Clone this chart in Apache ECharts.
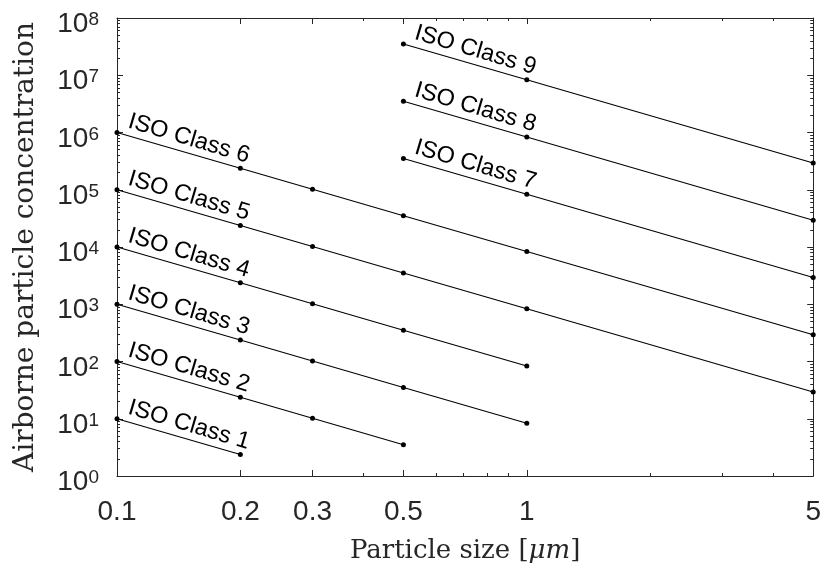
<!DOCTYPE html>
<html>
<head>
<meta charset="utf-8">
<script src="https://cdn.jsdelivr.net/npm/echarts@6/dist/echarts.min.js"></script>
<style>html,body{margin:0;padding:0;background:#fff}#c{width:824px;height:574px}</style>
</head>
<body>
<div id="c"></div>
<script>
// Particle sizes (µm)
var sizes = [0.1, 0.2, 0.3, 0.5, 1, 5];
// Concentrations per ISO class at each size (null = not defined)
var class1 = [10, 2.37, null, null, null, null];
var class2 = [100, 23.7, 10.2, 3.52, null, null];
var class3 = [1000, 237, 102, 35.2, 8.32, null];
var class4 = [10000, 2370, 1020, 352, 83.2, null];
var class5 = [100000, 23700, 10200, 3520, 832, 29.3];
var class6 = [1000000, 237000, 102000, 35200, 8320, 293];
var class7 = [null, null, null, 352000, 83200, 2930];
var class8 = [null, null, null, 3520000, 832000, 29300];
var class9 = [null, null, null, 35200000, 8320000, 293000];
var classNames = ['ISO Class 1','ISO Class 2','ISO Class 3','ISO Class 4','ISO Class 5','ISO Class 6','ISO Class 7','ISO Class 8','ISO Class 9'];
var classData = [class1, class2, class3, class4, class5, class6, class7, class8, class9];
// Tick labels / positions
var xTickLabels = [0.1, 0.2, 0.3, 0.5, 1, 5];
var xMinorTicks = [0.4, 0.6, 0.7, 0.8, 0.9, 2, 3, 4];
var yTickLabels = [1, 10, 100, 1e3, 1e4, 1e5, 1e6, 1e7, 1e8];
var yMinorTicks = [];
for (var e = 0; e < 8; e++) { for (var m = 2; m <= 9; m++) { yMinorTicks.push(m * Math.pow(10, e)); } }

var AX = '#262626';
var SANS = '"Liberation Sans", Arial, Helvetica, sans-serif';
var SERIF = '"DejaVu Serif", serif';

function xAxisDef(pos, ticks, len, labels, line) {
  return {
    type: 'log', logBase: 10, min: 0.1, max: 5, position: pos,
    axisLine: {show: line, lineStyle: {color: AX, width: 1}},
    axisTick: {show: true, inside: true, length: len, customValues: ticks, lineStyle: {color: AX, width: 1}},
    axisLabel: labels ? {
      show: true, customValues: ticks, margin: 22, color: AX, fontSize: 28, fontFamily: SANS,
      formatter: function (v) { return String(+parseFloat(v).toPrecision(3)); }
    } : {show: false},
    splitLine: {show: false}, minorTick: {show: false}, minorSplitLine: {show: false}
  };
}
function yAxisDef(pos, ticks, len, labels, line) {
  return {
    type: 'log', logBase: 10, min: 1, max: 1e8, position: pos,
    axisLine: {show: line, lineStyle: {color: AX, width: 1}},
    axisTick: {show: true, inside: true, length: len, customValues: ticks, lineStyle: {color: AX, width: 1}},
    axisLabel: labels ? {
      show: true, customValues: ticks, margin: 18, color: AX, padding: [13, 0, 0, 0],
      formatter: function (v) { return '{b|10}{s|' + Math.round(Math.log10(v)) + '}'; },
      rich: {
        b: {fontSize: 28, lineHeight: 28, fontFamily: SANS, color: AX, verticalAlign: 'bottom'},
        s: {fontSize: 19, lineHeight: 19, fontFamily: SANS, color: AX, padding: [0, 0, 15, 0], verticalAlign: 'top'}
      }
    } : {show: false},
    splitLine: {show: false}, minorTick: {show: false}, minorSplitLine: {show: false}
  };
}

var xAxes = [
  xAxisDef('bottom', xTickLabels, 6, true, true),
  xAxisDef('bottom', xMinorTicks, 3, false, false),
  xAxisDef('top', xTickLabels, 6, false, true),
  xAxisDef('top', xMinorTicks, 3, false, false)
];
xAxes[0].name = 'Particle size [{i|μm}]';
xAxes[0].nameLocation = 'middle';
xAxes[0].nameGap = 62;
xAxes[0].nameTextStyle = {fontFamily: SERIF, fontSize: 26, color: AX,
  rich: {i: {fontFamily: SERIF, fontSize: 26, fontStyle: 'italic', color: AX}}};

var yAxes = [
  yAxisDef('left', yTickLabels, 6, true, true),
  yAxisDef('left', yMinorTicks, 3, false, false),
  yAxisDef('right', yTickLabels, 6, false, true),
  yAxisDef('right', yMinorTicks, 3, false, false)
];
yAxes[0].name = 'Airborne particle concentration';
yAxes[0].nameLocation = 'middle';
yAxes[0].nameGap = 77;
yAxes[0].nameTextStyle = {fontFamily: SERIF, fontSize: 28, color: AX};

var series = classData.map(function (vals, ci) {
  var data = [];
  var first = true;
  vals.forEach(function (v, i) {
    if (v === null) return;
    var item = {value: [sizes[i], v]};
    if (first) {
      item.label = {
        show: true, formatter: classNames[ci], position: 'right', distance: 6,
        align: 'left', verticalAlign: 'bottom', rotate: -16.5,
        color: '#000', fontSize: 23.5, fontFamily: SANS
      };
      first = false;
    }
    data.push(item);
  });
  return {
    type: 'line', name: classNames[ci], xAxisIndex: 0, yAxisIndex: 0,
    data: data, symbol: 'circle', symbolSize: 5, showSymbol: true,
    itemStyle: {color: '#000'}, lineStyle: {color: '#000', width: 1.1},
    label: {show: false}, emphasis: {disabled: true}, animation: false, silent: true
  };
});

var chart = echarts.init(document.getElementById('c'), null, {renderer: 'canvas'});
chart.setOption({
  backgroundColor: '#fff',
  animation: false,
  grid: {left: 117, right: 9, top: 18, bottom: 98, containLabel: false},
  xAxis: xAxes,
  yAxis: yAxes,
  series: series
});
</script>
</body>
</html>
